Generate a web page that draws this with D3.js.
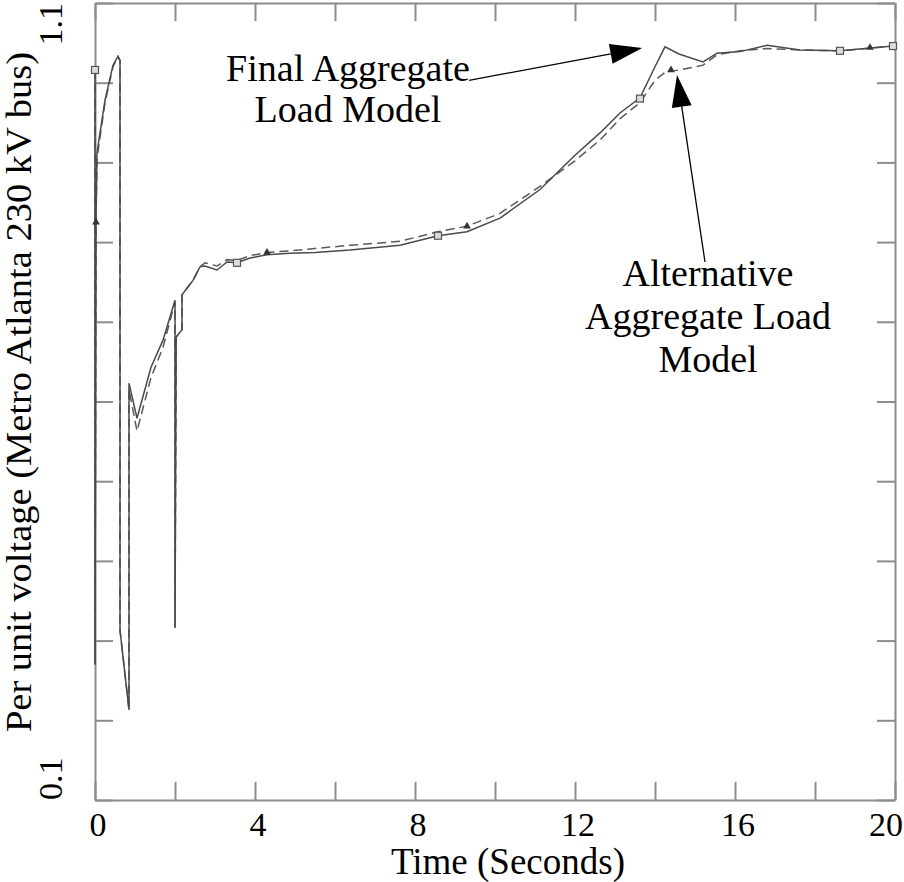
<!DOCTYPE html>
<html>
<head>
<meta charset="utf-8">
<script src="https://cdn.jsdelivr.net/npm/d3@7"></script>
<style>
  body { margin: 0; background: #fff; }
</style>
</head>
<body>
<div id="chart"></div>
<script>
// time in seconds, shared by both load models
let time = [0, 0, 0.025, 0.05, 0.25, 0.45, 0.575, 0.625, 0.625, 0.85, 0.85, 1.05, 1.4, 1.7, 2.0, 2.0, 2.03, 2.175, 2.175,
    2.45, 2.625, 2.75, 3.05, 3.3, 3.55, 3.875, 4.3, 4.875, 5.5, 6.375, 7.625, 8.575, 9.3, 10.125, 11.125, 12,
    12.625, 13.125, 13.625, 14.0, 14.25, 14.6, 15.2, 15.55, 16.125, 16.8, 17.625, 18.625, 19.95]

// per unit voltage, final aggregate load model (solid)
let finalLoad = [1.016, 0.270, 0.825, 0.912, 0.978, 1.022, 1.033, 1.028, 0.313, 0.213, 0.623, 0.579, 0.643, 0.677,
    0.727, 0.316, 0.681, 0.690, 0.734, 0.752, 0.769, 0.770, 0.765, 0.775, 0.774, 0.780, 0.784, 0.786, 0.787,
    0.790, 0.796, 0.808, 0.813, 0.830, 0.866, 0.909, 0.937, 0.962, 0.981, 1.020, 1.045, 1.036, 1.026, 1.037,
    1.039, 1.047, 1.041, 1.040, 1.046]

// per unit voltage, alternative aggregate load model (dashed)
let altLoad = [1.016, 0.270, 0.825, 0.905, 0.975, 1.020, 1.033, 1.028, 0.313, 0.213, 0.615, 0.563, 0.630, 0.668,
    0.725, 0.316, 0.681, 0.690, 0.734, 0.752, 0.769, 0.774, 0.770, 0.778, 0.777, 0.783, 0.787, 0.789, 0.792,
    0.796, 0.801, 0.813, 0.820, 0.836, 0.870, 0.902, 0.928, 0.955, 0.975, 1.003, 1.013, 1.016, 1.022, 1.035,
    1.040, 1.043, 1.041, 1.040, 1.046]

// symbols along each curve
let finalMarkT = [0, 3.55, 8.575, 13.625, 18.625, 19.95]
let finalMarkV = [1.016, 0.774, 0.808, 0.980, 1.040, 1.046]
let altMarkT = [0.025, 4.3, 9.3, 14.4, 19.375]
let altMarkV = [0.825, 0.787, 0.820, 1.016, 1.044]

let xTickLabels = [0, 4, 8, 12, 16, 20]
let yTickLabels = ["0.1", "1.1"]

// annotation text lines
let finalNote = ["Final Aggregate", "Load Model"]
let altNote = ["Alternative", "Aggregate Load", "Model"]

let width = 904,
    height = 882

let serif = "'Liberation Serif', 'Times New Roman', Times, 'DejaVu Serif', serif"

let svg = d3.select("#chart")
    .append("svg")
    .attr("width", width)
    .attr("height", height)
    .attr("font-family", serif)
    .style("font-family", serif)

let x = d3.scaleLinear().domain([0, 20]).range([95, 895])
let y = d3.scaleLinear().domain([0.1, 1.1]).range([800, 3])

let axisColor = "#8c8c8c"

// frame + inward ticks on all four sides
let axes = [
    [d3.axisBottom(x).tickValues(d3.range(0, 21, 2)), "translate(0,800)"],
    [d3.axisTop(x).tickValues(d3.range(0, 21, 2)), "translate(0,3)"],
    [d3.axisLeft(y).tickValues(d3.range(0.1, 1.11, 0.1)), "translate(95,0)"],
    [d3.axisRight(y).tickValues(d3.range(0.1, 1.11, 0.1)), "translate(895,0)"]
]
axes.forEach(([ax, tr]) => {
    let g = svg.append("g")
        .attr("transform", tr)
        .call(ax.tickSizeInner(-18).tickSizeOuter(0).tickFormat(""))
    g.selectAll("path, line").attr("stroke", axisColor).attr("stroke-width", 2)
})

// x tick labels
svg.selectAll("xLabels")
    .data(xTickLabels)
    .enter()
    .append("text")
    .attr("x", (d) => x(d) + (d === 20 ? -9 : 3))
    .attr("y", 836)
    .attr("text-anchor", "middle")
    .style("font-family", serif)
    .style("font-size", "34px")
    .text((d) => d)

// y tick labels (rotated)
svg.selectAll("yLabels")
    .data(yTickLabels)
    .enter()
    .append("text")
    .attr("transform", (d) => "translate(62," + y(+d) + ") rotate(-90)")
    .attr("text-anchor", (d, i) => i === 0 ? "start" : "end")
    .style("font-family", serif)
    .style("font-size", "34px")
    .text((d) => d)

// axis titles
svg.append("text")
    .attr("x", 508)
    .attr("y", 874)
    .attr("text-anchor", "middle")
    .style("font-family", serif)
    .style("font-size", "37px")
    .text("Time (Seconds)")

svg.append("text")
    .attr("transform", "translate(31,392) rotate(-90) scale(1.1,1)")
    .attr("text-anchor", "middle")
    .style("font-family", serif)
    .style("font-size", "35px")
    .text("Per unit voltage (Metro Atlanta 230 kV bus)")

// curves
let line = d3.line()
    .x((d) => x(d[0]))
    .y((d) => y(d[1]))

svg.append("path")
    .attr("d", line(time.map((t, i) => [t, altLoad[i]])))
    .attr("fill", "none")
    .attr("stroke", "#5a5a5a")
    .attr("stroke-width", 1.5)
    .attr("stroke-dasharray", "9,5")

svg.append("path")
    .attr("d", line(time.map((t, i) => [t, finalLoad[i]])))
    .attr("fill", "none")
    .attr("stroke", "#4a4a4a")
    .attr("stroke-width", 1.5)

// square symbols on the final model curve
svg.selectAll("squares")
    .data(finalMarkT.map((t, i) => [t, finalMarkV[i]]))
    .enter()
    .append("rect")
    .attr("x", (d) => x(d[0]) - 3.5)
    .attr("y", (d) => y(d[1]) - 3.5)
    .attr("width", 7)
    .attr("height", 7)
    .attr("fill", "#ddd")
    .attr("stroke", "#555")
    .attr("stroke-width", 1.2)

// triangle symbols on the alternative model curve
svg.selectAll("triangles")
    .data(altMarkT.map((t, i) => [t, altMarkV[i]]))
    .enter()
    .append("path")
    .attr("transform", (d) => "translate(" + x(d[0]) + "," + y(d[1]) + ")")
    .attr("d", d3.symbol().type(d3.symbolTriangle).size(26))
    .attr("fill", "#333")

// annotation arrows, in data units
let arrows = [
    { from: [9.35, 1.003], to: [13.68, 1.0435] },
    { from: [15.25, 0.775], to: [14.55, 1.0097] }
]

arrows.forEach((a) => {
    let x0 = x(a.from[0]), y0 = y(a.from[1]),
        x1 = x(a.to[0]), y1 = y(a.to[1])
    let ang = Math.atan2(y1 - y0, x1 - x0)
    let len = 32, half = 10
    let bx = x1 - len * Math.cos(ang), by = y1 - len * Math.sin(ang)
    svg.append("line")
        .attr("x1", x0).attr("y1", y0)
        .attr("x2", bx).attr("y2", by)
        .attr("stroke", "#000")
        .attr("stroke-width", 1.3)
    svg.append("path")
        .attr("d", "M" + x1 + "," + y1 +
            "L" + (bx + half * Math.sin(ang)) + "," + (by - half * Math.cos(ang)) +
            "L" + (bx - half * Math.sin(ang)) + "," + (by + half * Math.cos(ang)) + "Z")
        .attr("fill", "#000")
})

svg.selectAll("finalNote")
    .data(finalNote)
    .enter()
    .append("text")
    .attr("x", 348)
    .attr("y", (d, i) => 81 + i * 41)
    .attr("text-anchor", "middle")
    .style("font-family", serif)
    .style("font-size", "38px")
    .text((d) => d)

svg.selectAll("altNote")
    .data(altNote)
    .enter()
    .append("text")
    .attr("x", 708)
    .attr("y", (d, i) => 286 + i * 43)
    .attr("text-anchor", "middle")
    .style("font-family", serif)
    .style("font-size", "38px")
    .text((d) => d)
</script>
</body>
</html>
